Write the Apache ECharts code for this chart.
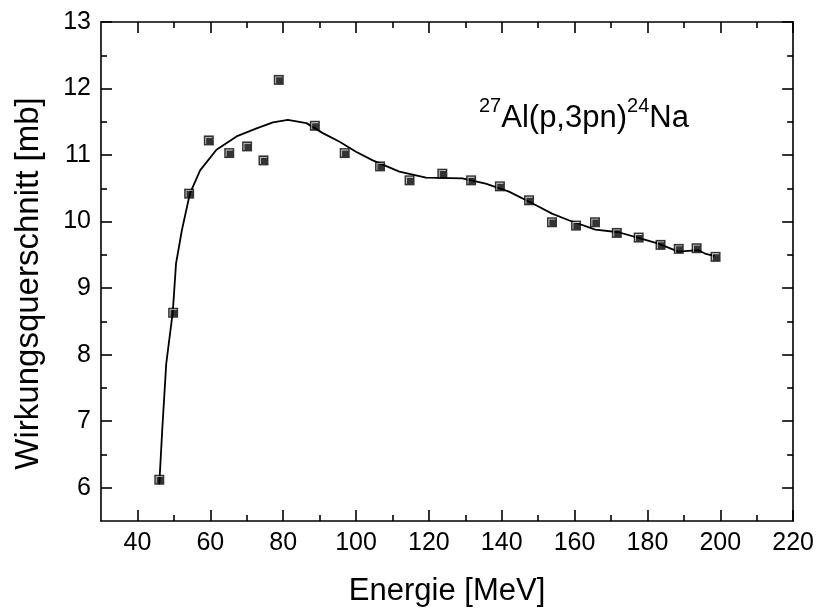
<!DOCTYPE html>
<html>
<head>
<meta charset="utf-8">
<script src="https://cdn.jsdelivr.net/npm/echarts@6/dist/echarts.min.js"></script>
<style>
  html, body { margin: 0; padding: 0; background: #fff; }
  #main { width: 817px; height: 612px; }
</style>
</head>
<body>
<div id="main"></div>
<script type="text/javascript">
    // Messpunkte
    var energie = [46, 49.8, 54.2, 59.6, 65.2, 70.1, 74.6, 78.8, 88.7, 96.9, 106.6, 114.7, 123.7,
                   131.6, 139.5, 147.5, 153.8, 160.4, 165.6, 171.6, 177.6, 183.6, 188.6, 193.5, 198.7];
    var querschnitt = [6.12, 8.63, 10.42, 11.22, 11.03, 11.13, 10.92, 12.13, 11.44, 11.03, 10.83, 10.62, 10.72,
                       10.62, 10.53, 10.32, 9.99, 9.94, 9.99, 9.83, 9.76, 9.65, 9.59, 9.60, 9.47];

    // Anpassungskurve
    var kurveX = [46.0, 46.8, 47.9, 49.7, 50.6, 52.2, 54.4, 57.2, 61.7, 67.2, 72.7, 77.2, 81.3, 86.4,
                  90.9, 95.5, 100.0, 104.6, 111.9, 119.2, 129.2, 135.6, 142.0, 149.3, 153.8, 158.4,
                  165.7, 172.1, 178.5, 183.0, 188.5, 194.0, 195.8, 198.5];
    var kurveY = [6.05, 6.86, 7.86, 8.64, 9.37, 9.87, 10.42, 10.77, 11.08, 11.28, 11.40, 11.49, 11.53, 11.48,
                  11.33, 11.20, 11.05, 10.92, 10.75, 10.66, 10.65, 10.57, 10.45, 10.25, 10.12, 10.02,
                  9.88, 9.84, 9.74, 9.67, 9.55, 9.57, 9.52, 9.48];

    // Achsenbeschriftung
    var xTicks = [40, 60, 80, 100, 120, 140, 160, 180, 200, 220];
    var xMinor = [50, 70, 90, 110, 130, 150, 170, 190, 210];
    var yTicks = [6, 7, 8, 9, 10, 11, 12, 13];
    var yMinor = [6.5, 7.5, 8.5, 9.5, 10.5, 11.5, 12.5];

    var font = 'Liberation Sans, Arial, sans-serif';
    var lineStyle = {color: '#000', width: 1.6};

    function xAchse(pos, ticks, len, withLabels, showLine) {
        return {
            type: 'value', position: pos, min: 30, max: 220,
            splitLine: {show: false},
            axisLine: {show: showLine, lineStyle: lineStyle},
            axisTick: {show: true, inside: true, length: len, customValues: ticks, lineStyle: lineStyle},
            axisLabel: withLabels ? {show: true, customValues: ticks, margin: 10, color: '#000', fontSize: 25, fontFamily: font} : {show: false}
        };
    }
    function yAchse(pos, ticks, len, withLabels, showLine) {
        return {
            type: 'value', position: pos, min: 5.5, max: 13,
            splitLine: {show: false},
            axisLine: {show: showLine, lineStyle: lineStyle},
            axisTick: {show: true, inside: true, length: len, customValues: ticks, lineStyle: lineStyle},
            axisLabel: withLabels ? {show: true, customValues: ticks, margin: 10, color: '#000', fontSize: 25, fontFamily: font} : {show: false}
        };
    }

    var xAxes = [
        xAchse('bottom', xTicks, 11, true, true),
        xAchse('bottom', xMinor, 6, false, false),
        xAchse('top', xTicks, 11, false, true),
        xAchse('top', xMinor, 6, false, false)
    ];
    xAxes[0].name = 'Energie [MeV]';
    xAxes[0].nameLocation = 'middle';
    xAxes[0].nameGap = 55;
    xAxes[0].nameTextStyle = {color: '#000', fontSize: 31, fontFamily: font};

    var yAxes = [
        yAchse('left', yTicks, 11, true, true),
        yAchse('left', yMinor, 6, false, false),
        yAchse('right', yTicks, 11, false, true),
        yAchse('right', yMinor, 6, false, false)
    ];
    yAxes[0].name = 'Wirkungsquerschnitt [mb]';
    yAxes[0].nameLocation = 'middle';
    yAxes[0].nameGap = 56;
    yAxes[0].nameTextStyle = {color: '#000', fontSize: 33, fontFamily: font, padding: [0, 24, 0, 0]};

    var punkte = energie.map(function (e, i) { return [e, querschnitt[i]]; });
    var kurve = kurveX.map(function (e, i) { return [e, kurveY[i]]; });

    var myChart = echarts.init(document.getElementById('main'), null, {renderer: 'canvas'});
    var option = {
        animation: false,
        backgroundColor: '#fff',
        grid: {left: 101, right: 22, top: 22, bottom: 91, containLabel: false},
        xAxis: xAxes,
        yAxis: yAxes,
        graphic: [{
            type: 'text',
            left: 479,
            top: 96,
            style: {
                text: '{sup|27}{main|Al(p,3pn)}{sup|24}{main|Na}',
                fill: '#000',
                rich: {
                    sup: {fontSize: 20, fontFamily: font, lineHeight: 20, verticalAlign: 'top', fill: '#000'},
                    main: {fontSize: 31, fontFamily: font, lineHeight: 38, verticalAlign: 'bottom', fill: '#000'}
                }
            }
        }],
        series: [
            {
                name: 'Kurve',
                type: 'line',
                data: kurve,
                showSymbol: false,
                smooth: false,
                lineStyle: {color: '#000', width: 1.8},
                z: 2
            },
            {
                name: 'Messung',
                type: 'scatter',
                data: punkte,
                symbol: 'rect',
                symbolSize: 10,
                itemStyle: {color: '#000'},
                z: 3
            },
            {
                name: 'Glanz',
                type: 'scatter',
                data: punkte,
                symbol: 'path://M0,0H10V1.2H1.2V10H0Z',
                symbolSize: 7,
                itemStyle: {color: '#fff'},
                silent: true,
                z: 4
            }
        ]
    };

    myChart.setOption(option);
</script>
</body>
</html>
